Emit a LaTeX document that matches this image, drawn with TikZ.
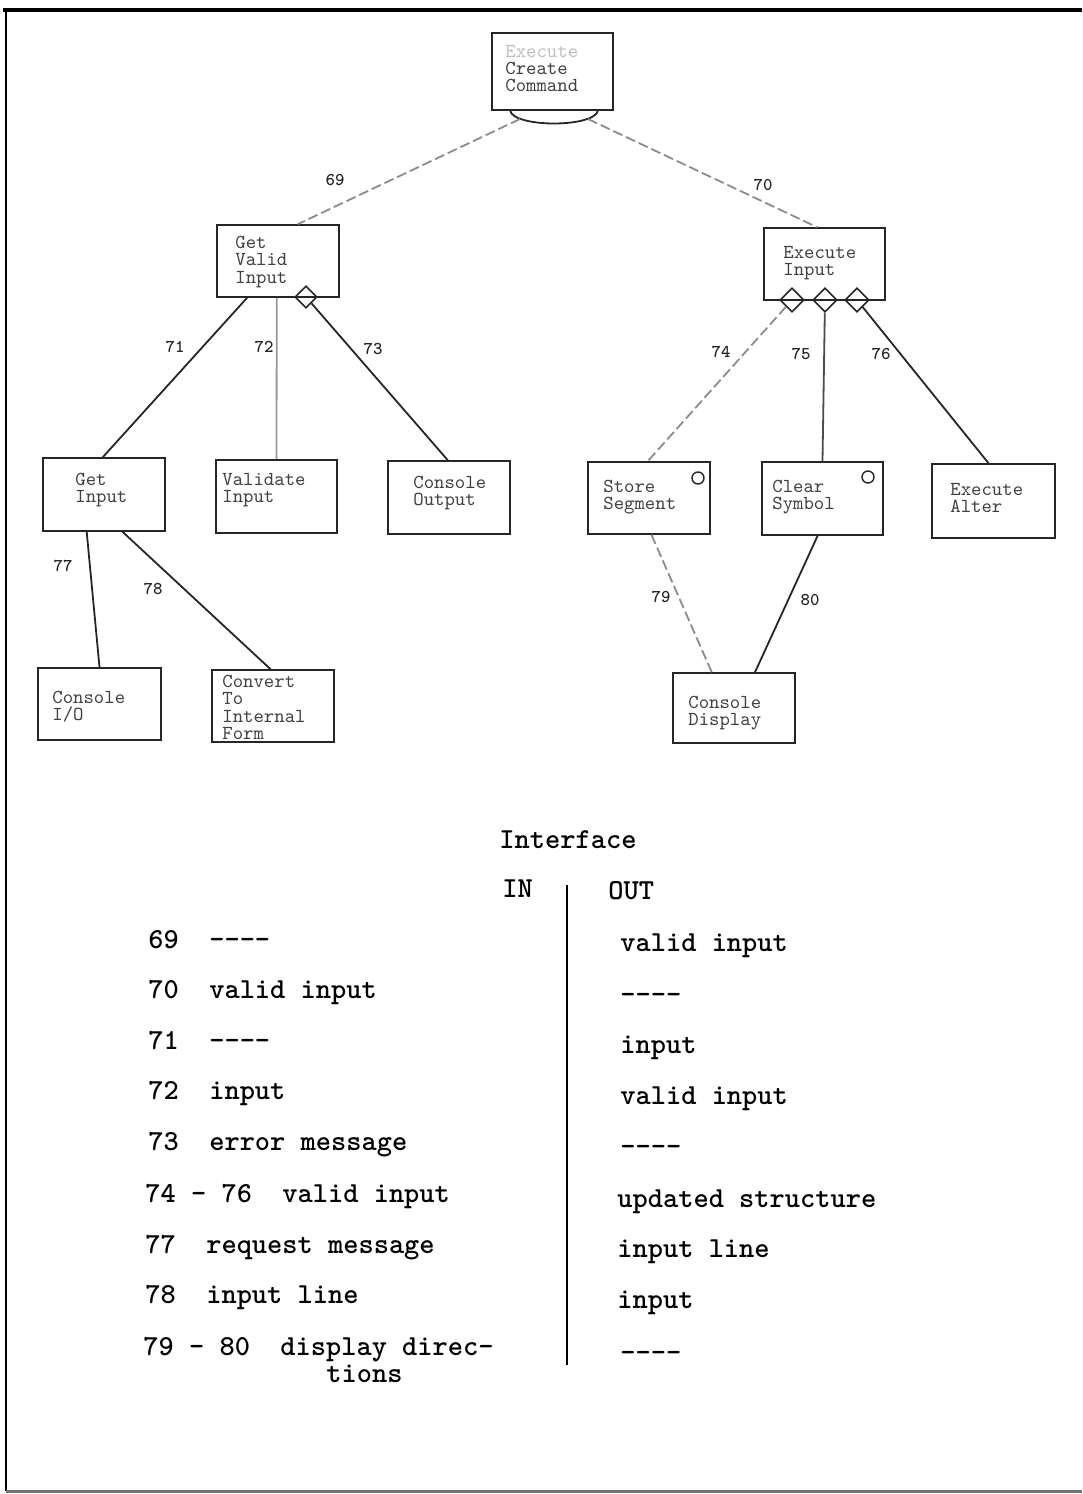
\documentclass[tikz,border=0pt]{standalone}
\usepackage{fontspec}
\setmainfont{Liberation Mono}
\usetikzlibrary{calc,fit,shapes.geometric}
\begin{document}
\begin{tikzpicture}[x=0.5pt,y=-0.5pt,
  modbox/.style={draw=black!85, line width=0.8pt, inner sep=0pt},
  btext/.style={anchor=north west, inner sep=0pt, align=left, text=black!75,
    font=\ttfamily\fontsize{9.9}{8.6}\selectfont},
  conn/.style={line width=0.9pt, black!85},
  faint/.style={black!45, dash pattern=on 5pt off 2pt},
  lbl/.style={inner sep=0pt, text=black!85, font=\ttfamily\bfseries\fontsize{9}{10}\selectfont},
  dmd/.style={diamond, draw=black!85, line width=0.8pt, inner sep=0pt},
  flag/.style={circle, draw=black!85, line width=0.7pt, inner sep=0pt, minimum size=6pt},
  tt/.style={anchor=west, inner sep=0pt, text height=1.6ex, text depth=0.4ex,
    font=\ttfamily\bfseries\fontsize{14.5}{16}\selectfont}
]
\useasboundingbox (0,0) rectangle (1082,1494);
\fill[white] (0,0) rectangle (1082,1494);

% page frame
\draw[line width=1.6pt] (3,10) -- (1082,10);
\draw[line width=1.2pt] (6,10) -- (6,1491);
\draw[line width=1.5pt, black!55] (6,1491) -- (1082,1491);

% module boxes
\node[modbox, fit={(492,33) (613,110)}] (top) {};
\node[modbox, fit={(217,225) (339,297)}] (gvi) {};
\node[modbox, fit={(764,228) (885,300)}] (exi) {};
\node[modbox, fit={(43,458) (165,531)}] (gin) {};
\node[modbox, fit={(216,460) (337,533)}] (val) {};
\node[modbox, fit={(388,461) (510,534)}] (cout) {};
\node[modbox, fit={(588,462) (710,534)}] (sseg) {};
\node[modbox, fit={(762,462) (883,535)}] (csym) {};
\node[modbox, fit={(932,464) (1055,538)}] (exalt) {};
\node[modbox, fit={(38,668) (161,740)}] (cio) {};
\node[modbox, fit={(212,670) (334,742)}] (conv) {};
\node[modbox, fit={(673,673) (795,743)}] (cdisp) {};

% box texts
\node[btext] (top-t) at (505,45) {{\color{black!25}Execute}\\Create\\Command};
\node[btext] (gvi-t) at (235,236) {Get\\Valid\\Input};
\node[btext] (exi-t) at (783,246) {Execute\\Input};
\node[btext] (gin-t) at (75,473) {Get\\Input};
\node[btext] (val-t) at (222,473) {Validate\\Input};
\node[btext] (cout-t) at (413,476) {Console\\Output};
\node[btext] (sseg-t) at (603,480) {Store\\Segment};
\node[btext] (csym-t) at (772,480) {Clear\\Symbol};
\node[btext] (exalt-t) at (950,483) {Execute\\Alter};
\node[btext] (cio-t) at (52,691) {Console\\I/O};
\node[btext] (conv-t) at (222,675) {Convert\\To\\Internal\\Form};
\node[btext] (cdisp-t) at (688,696) {Console\\Display};

% iteration arc under the top module
\draw[conn] (510,110) .. controls (512,128) and (596,128) .. (598,110);
\coordinate (arcL) at (520,119);
\coordinate (arcR) at (588,119);

% decision diamonds and flags
\node[dmd, minimum width=11pt, minimum height=11pt] (d1) at (306,297) {};
\node[dmd, minimum width=12pt, minimum height=12pt] (d2) at (792,300) {};
\node[dmd, minimum width=12pt, minimum height=12pt] (d3) at (825,300) {};
\node[dmd, minimum width=12pt, minimum height=12pt] (d4) at (857,300) {};
\node[flag] (f1) at (698,478) {};
\node[flag] (f2) at (868,477) {};

% connectors
\draw[conn,faint] (arcL) -- ($(gvi.north west)!0.66!(gvi.north east)$);
\draw[conn,faint] (arcR) -- ($(exi.north west)!0.44!(exi.north east)$);
\draw[conn] ($(gvi.south west)!0.25!(gvi.south east)$) -- ($(gin.north west)!0.49!(gin.north east)$);
\draw[conn,black!40] ($(gvi.south west)!0.49!(gvi.south east)$) -- ($(val.north west)!0.5!(val.north east)$);
\draw[conn] (d1) -- ($(cout.north west)!0.49!(cout.north east)$);
\draw[conn,faint] (d2) -- ($(sseg.north west)!0.49!(sseg.north east)$);
\draw[conn,black!70] (d3) -- ($(csym.north west)!0.5!(csym.north east)$);
\draw[conn] (d4) -- ($(exalt.north west)!0.46!(exalt.north east)$);
\draw[conn] ($(gin.south west)!0.36!(gin.south east)$) -- ($(cio.north west)!0.5!(cio.north east)$);
\draw[conn] ($(gin.south west)!0.65!(gin.south east)$) -- ($(conv.north west)!0.48!(conv.north east)$);
\draw[conn,faint] ($(sseg.south west)!0.52!(sseg.south east)$) -- ($(cdisp.north west)!0.32!(cdisp.north east)$);
\draw[conn] ($(csym.south west)!0.46!(csym.south east)$) -- ($(cdisp.north west)!0.67!(cdisp.north east)$);

% connector numbers
\node[lbl] (l69) at (335,180) {69};
\node[lbl] (l70) at (763,185) {70};
\node[lbl] (l71) at (175,347) {71};
\node[lbl] (l72) at (264,347) {72};
\node[lbl] (l73) at (373,349) {73};
\node[lbl] (l74) at (721,352) {74};
\node[lbl] (l75) at (801,354) {75};
\node[lbl] (l76) at (881,354) {76};
\node[lbl] (l77) at (63,566) {77};
\node[lbl] (l78) at (153,589) {78};
\node[lbl] (l79) at (661,597) {79};
\node[lbl] (l80) at (810,600) {80};

% interface table
\node[tt, anchor=center] (ifc) at (568,842) {Interface};
\node[tt] (hin) at (502,891) {IN};
\node[tt] (hout) at (608,893) {OUT};
\coordinate (colTop) at (567,885);
\coordinate (colBot) at (567,1365);
\draw[line width=1.3pt] (colTop) -- (colBot);

\node[tt] (i69) at (148,942) {69~~----};
\node[tt] (i70) at (148,992) {70~~valid~input};
\node[tt] (i71) at (148,1043) {71~~----};
\node[tt] (i72) at (148,1093) {72~~input};
\node[tt] (i73) at (148,1144) {73~~error~message};
\node[tt] (i74) at (145,1196) {74~-~76~~valid~input};
\node[tt] (i77) at (145,1247) {77~~request~message};
\node[tt] (i78) at (145,1297) {78~~input~line};
\node[tt] (i79) at (143,1349) {79~-~80~~display~direc-};
\node[tt] (i79b) at (326,1376) {tions};

\node[tt] (o69) at (620,945) {valid~input};
\node[tt] (o70) at (620,997) {----};
\node[tt] (o71) at (620,1047) {input};
\node[tt] (o72) at (620,1098) {valid~input};
\node[tt] (o73) at (620,1149) {----};
\node[tt] (o74) at (617,1201) {updated~structure};
\node[tt] (o77) at (617,1251) {input~line};
\node[tt] (o78) at (617,1302) {input};
\node[tt] (o79) at (620,1355) {----};
\end{tikzpicture}
\end{document}
